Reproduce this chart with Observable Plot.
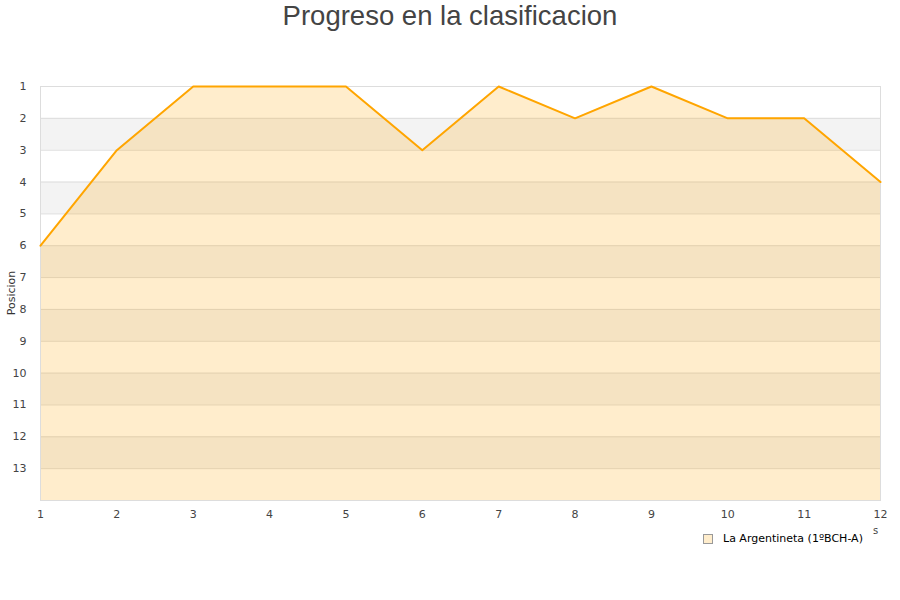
<!DOCTYPE html>
<html>
<head>
<meta charset="utf-8">
<script src="https://cdn.jsdelivr.net/npm/d3@7"></script>
<script src="https://cdn.jsdelivr.net/npm/@observablehq/plot@0.6"></script>
<style>
  body { margin: 0; background: #fff; }
  #wrap { position: relative; width: 900px; height: 600px; overflow: hidden; }
  #title { position: absolute; left: 0; top: 0; width: 900px; text-align: center;
           font-family: "Liberation Sans", Arial, sans-serif; font-size: 27.5px; color: #444; line-height: 32px; }
  #legend { position: absolute; left: 703px; top: 532px; font-family: "DejaVu Sans", sans-serif;
            font-size: 11px; color: #000; display: flex; align-items: center; }
  #legend .sw { width: 8px; height: 8px; background: #ffedcc; border: 1px solid #999; margin-right: 10px; }
  #xlab { position: absolute; left: 873px; top: 525px; font-family: "DejaVu Sans", sans-serif; font-size: 10px; color: #444; }
  #ylab { position: absolute; left: 11px; top: 293px; transform: translate(-50%, -50%) rotate(-90deg);
          font-family: "DejaVu Sans", sans-serif; font-size: 11px; color: #333; white-space: nowrap; }
  #chart { position: absolute; left: 0; top: 0; }
</style>
</head>
<body>
<div id="wrap">
  <div id="chart"></div>
  <div id="title">Progreso en la clasificacion</div>
  <div id="ylab">Posicion</div>
  <div id="xlab">s</div>
  <div id="legend"><div class="sw"></div><span>La Argentineta (1ºBCH-A)</span></div>
</div>
<script>
const jornadas = [1, 2, 3, 4, 5, 6, 7, 8, 9, 10, 11, 12];
const posiciones = [6, 3, 1, 1, 1, 3, 1, 2, 1, 2, 2, 4];
const yTicks = [1, 2, 3, 4, 5, 6, 7, 8, 9, 10, 11, 12, 13];
const bandStarts = [2, 4, 6, 8, 10, 12];
const serieNombre = "La Argentineta (1ºBCH-A)";
const yMax = 14;

const data = jornadas.map((j, i) => ({ j, pos: posiciones[i] }));

const plot = Plot.plot({
  width: 900,
  height: 600,
  marginLeft: 40,
  marginRight: 20,
  marginTop: 86,
  marginBottom: 100,
  style: { fontFamily: "DejaVu Sans, sans-serif", fontSize: "11px", color: "#444", background: "transparent" },
  x: { domain: [1, 12], ticks: jornadas, tickFormat: d => String(d), label: null },
  y: { domain: [1, yMax], reverse: true, ticks: yTicks, tickFormat: d => String(d), label: null },
  marks: [
    Plot.rect(bandStarts, { x1: 1, x2: 12, y1: d => d, y2: d => d + 1, fill: "#f3f3f3" }),
    Plot.ruleY(yTicks, { stroke: "#dddddd", strokeWidth: 1 }),
    Plot.areaY(data, { x: "j", y1: yMax, y2: "pos", fill: "#ffa500", fillOpacity: 0.2 }),
    Plot.frame({ stroke: "#dddddd" }),
    Plot.lineY(data, { x: "j", y: "pos", stroke: "#ffa500", strokeWidth: 2 }),
    Plot.axisY({ ticks: yTicks, tickSize: 0, tickPadding: 14, label: null, fill: "#444" }),
    Plot.axisX({ ticks: jornadas, tickSize: 0, tickPadding: 10, label: null, fill: "#444" })
  ]
});
document.getElementById("chart").appendChild(plot);
</script>
</body>
</html>
